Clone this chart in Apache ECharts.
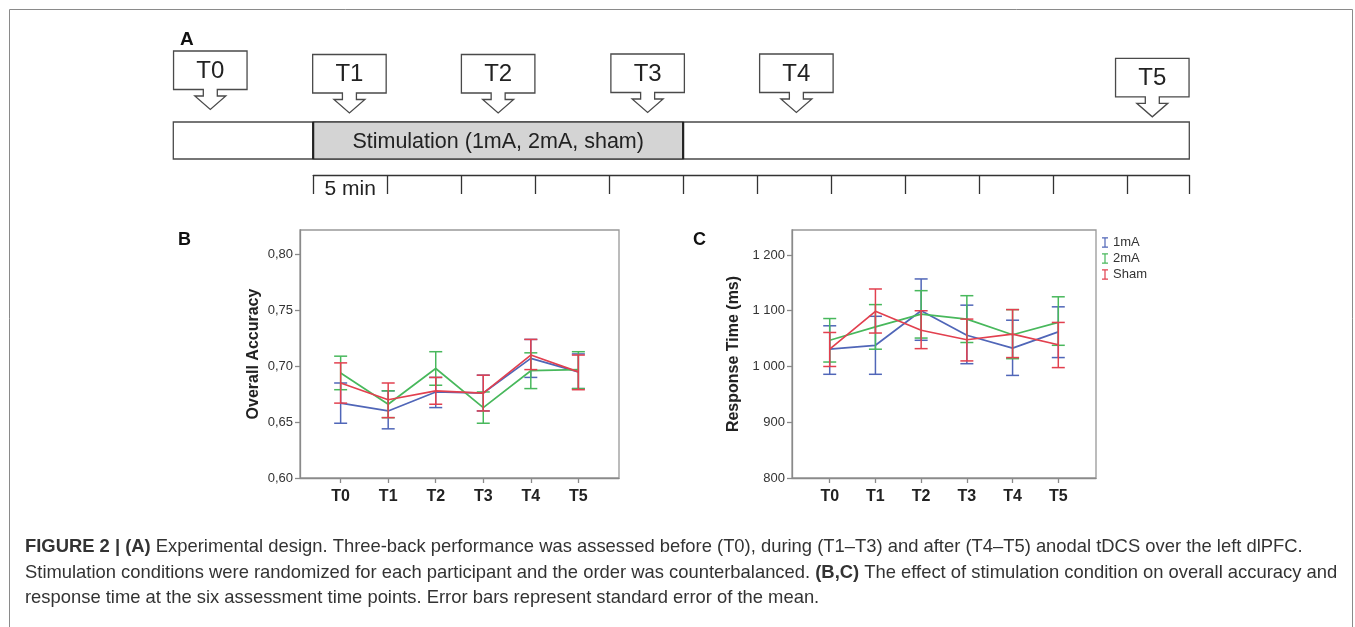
<!DOCTYPE html>
<html><head><meta charset="utf-8">
<script src="https://cdn.jsdelivr.net/npm/echarts@6/dist/echarts.min.js"></script>
<style>html,body{margin:0;padding:0;background:#fff}#c{width:1355px;height:627px}</style>
</head><body><div id="c"></div>
<script>
// ---------- data ----------
const timeLabels = ['T0', 'T1', 'T2', 'T3', 'T4', 'T5'];
const timeIdx = [0, 1, 2, 3, 4, 5];
const conditions = ['1mA', '2mA', 'Sham'];

// Panel B: overall accuracy (mean, lower / upper end of SE bar)
const acc1mA     = [0.667, 0.660, 0.677, 0.676, 0.707, 0.695];
const acc1mALo   = [0.649, 0.644, 0.663, 0.660, 0.690, 0.680];
const acc1mAHi   = [0.685, 0.678, 0.690, 0.692, 0.724, 0.711];
const acc2mA     = [0.694, 0.666, 0.698, 0.663, 0.696, 0.697];
const acc2mALo   = [0.679, 0.654, 0.683, 0.649, 0.680, 0.680];
const acc2mAHi   = [0.709, 0.678, 0.713, 0.677, 0.712, 0.713];
const accSham    = [0.685, 0.670, 0.678, 0.676, 0.710, 0.695];
const accShamLo  = [0.667, 0.654, 0.666, 0.660, 0.697, 0.679];
const accShamHi  = [0.703, 0.685, 0.690, 0.692, 0.724, 0.710];
const accTicks   = [0.60, 0.65, 0.70, 0.75, 0.80];

// Panel C: response time (ms)
const rt1mA      = [1031, 1038, 1100, 1056, 1033, 1062];
const rt1mALo    = [986, 986, 1047, 1005, 984, 1016];
const rt1mAHi    = [1073, 1090, 1157, 1110, 1083, 1107];
const rt2mA      = [1047, 1071, 1094, 1085, 1057, 1079];
const rt2mALo    = [1008, 1031, 1051, 1043, 1014, 1038];
const rt2mAHi    = [1086, 1111, 1136, 1127, 1102, 1125];
const rtSham     = [1031, 1099, 1065, 1048, 1058, 1039];
const rtShamLo   = [1000, 1060, 1032, 1010, 1016, 998];
const rtShamHi   = [1061, 1139, 1100, 1085, 1102, 1079];
const rtTicks    = [800, 900, 1000, 1100, 1200];

// Panel A: timeline in minutes (0 = stimulation onset)
const timelineStart = -9.45;
const timelineEnd = 59.2;
const stimStart = 0;
const stimEnd = 25;
const stimLabel = 'Stimulation (1mA, 2mA, sham)';
const calloutLabels = ['T0', 'T1', 'T2', 'T3', 'T4', 'T5'];
const calloutTimes = [-6.95, 2.45, 12.5, 22.6, 32.65, 56.7];
const rulerTicks = [0, 5, 10, 15, 20, 25, 30, 35, 40, 45, 50, 55, 59.2];
const rulerLabelAt = [2.5];
const rulerLabel = '5 min';

const captionLines = [
  '{b|FIGURE 2 | (A)} Experimental design. Three-back performance was assessed before (T0), during (T1\u2013T3) and after (T4\u2013T5) anodal tDCS over the left dlPFC.',
  'Stimulation conditions were randomized for each participant and the order was counterbalanced. {b|(B,C)} The effect of stimulation condition on overall accuracy and',
  'response time at the six assessment time points. Error bars represent standard error of the mean.'
];

// ---------- layout / style ----------
const FONT = '"Liberation Sans", Arial, Helvetica, sans-serif';
const COLORS = ['#5066b8', '#48b85c', '#e2404f'];
const CALLOUT_TOP = [51, 54.5, 54.5, 54, 54, 58.3];
const AXIS_GRAY = '#8a8a8a';
const CAP_SIZE = 18.4, CAP_LEFT = 25, CAP_TOP = 547, CAP_LEAD = 25.5;

const chart = echarts.init(document.getElementById('c'), null, {renderer: 'canvas'});

function errItem(params, api) {
  const x = api.value(0), lo = api.value(1), hi = api.value(2);
  const pLo = api.coord([x, lo]), pHi = api.coord([x, hi]);
  const w = 6.5;
  const style = {stroke: api.visual('color'), lineWidth: 1.5, fill: null};
  return {type: 'group', children: [
    {type: 'line', shape: {x1: pLo[0], y1: pLo[1], x2: pHi[0], y2: pHi[1]}, style},
    {type: 'line', shape: {x1: pLo[0] - w, y1: pLo[1], x2: pLo[0] + w, y2: pLo[1]}, style},
    {type: 'line', shape: {x1: pHi[0] - w, y1: pHi[1], x2: pHi[0] + w, y2: pHi[1]}, style}
  ]};
}

function calloutItem(params, api) {
  const t = api.value(0), idx = api.value(1);
  const cx = api.coord([t, 0])[0];
  const top = CALLOUT_TOP[idx], h = 38.5, hw = 36.75;
  const bot = top + h, sw = 7, hh = 15.5, sh = 6.5, ah = 13.5;
  const pts = [[cx - hw, top], [cx + hw, top], [cx + hw, bot], [cx + sw, bot], [cx + sw, bot + sh],
    [cx + hh, bot + sh], [cx, bot + sh + ah], [cx - hh, bot + sh], [cx - sw, bot + sh], [cx - sw, bot], [cx - hw, bot]];
  return {type: 'group', children: [
    {type: 'polygon', shape: {points: pts}, style: {fill: '#fff', stroke: '#4a4a4a', lineWidth: 1.3}},
    {type: 'text', style: {x: cx, y: top + h / 2 + 1, text: calloutLabels[idx], align: 'center', verticalAlign: 'middle',
      fontSize: 24, fontFamily: FONT, fill: '#222'}}
  ]};
}

function timelineItem(params, api) {
  const x0 = api.coord([api.value(0), 0])[0], x1 = api.coord([api.value(1), 0])[0];
  const stim = api.value(2) === 1;
  const y0 = 122, y1 = 159;
  const children = [
    {type: 'rect', shape: {x: x0, y: y0, width: x1 - x0, height: y1 - y0},
      style: {fill: stim ? '#d4d4d4' : '#fff', stroke: '#4a4a4a', lineWidth: 1.3}}
  ];
  if (stim) {
    children.push({type: 'line', shape: {x1: x0, y1: y0, x2: x0, y2: y1}, style: {stroke: '#222', lineWidth: 2.2}});
    children.push({type: 'line', shape: {x1: x1, y1: y0, x2: x1, y2: y1}, style: {stroke: '#222', lineWidth: 2.2}});
    children.push({type: 'text', style: {x: (x0 + x1) / 2, y: (y0 + y1) / 2 + 1.5, text: stimLabel, align: 'center',
      verticalAlign: 'middle', fontSize: 21.5, fontFamily: FONT, fill: '#222'}});
  }
  return {type: 'group', children};
}

function xAxisFor(grid, min, max) {
  return {
    gridIndex: grid, type: 'value', min: min, max: max,
    axisLine: {show: true, onZero: false, lineStyle: {color: AXIS_GRAY, width: 1.3}},
    axisTick: {show: true, customValues: timeIdx, length: 5, lineStyle: {color: AXIS_GRAY, width: 1.3}},
    axisLabel: {customValues: timeIdx, formatter: v => timeLabels[Math.round(v)], fontSize: 16, fontWeight: 'bold',
      color: '#222', fontFamily: FONT, margin: 11},
    splitLine: {show: false}
  };
}

function yAxisFor(grid, min, max, ticks, name, gap, fmt) {
  return {
    gridIndex: grid, type: 'value', min: min, max: max,
    name: name, nameLocation: 'middle', nameGap: gap,
    nameTextStyle: {fontSize: 16, fontWeight: 'bold', color: '#222', fontFamily: FONT},
    axisLine: {show: true, onZero: false, lineStyle: {color: AXIS_GRAY, width: 1.3}},
    axisTick: {show: true, customValues: ticks, length: 5, lineStyle: {color: AXIS_GRAY, width: 1.3}},
    axisLabel: {customValues: ticks, formatter: fmt, fontSize: 13, color: '#333', fontFamily: FONT, margin: 7},
    splitLine: {show: false}
  };
}

const accSets = [[acc1mA, acc1mALo, acc1mAHi], [acc2mA, acc2mALo, acc2mAHi], [accSham, accShamLo, accShamHi]];
const rtSets = [[rt1mA, rt1mALo, rt1mAHi], [rt2mA, rt2mALo, rt2mAHi], [rtSham, rtShamLo, rtShamHi]];

const series = [];
[[accSets, 0], [rtSets, 1]].forEach(([sets, g]) => {
  sets.forEach((s, k) => {
    series.push({
      name: conditions[k], type: 'custom', xAxisIndex: g, yAxisIndex: g, renderItem: errItem,
      itemStyle: {color: COLORS[k]}, encode: {x: 0, y: [1, 2]}, z: 2 + k,
      data: timeIdx.map(i => [i, s[1][i], s[2][i]]), silent: true
    });
    series.push({
      name: conditions[k], type: 'line', xAxisIndex: g, yAxisIndex: g, symbol: 'none', z: 2 + k,
      itemStyle: {color: COLORS[k]}, lineStyle: {color: COLORS[k], width: 1.7},
      data: timeIdx.map(i => [i, s[0][i]]), silent: true, animation: false
    });
  });
});

series.push({
  type: 'custom', xAxisIndex: 2, yAxisIndex: 2, renderItem: timelineItem, silent: true,
  data: [[timelineStart, timelineEnd, 0], [stimStart, stimEnd, 1]]
});
series.push({
  type: 'custom', xAxisIndex: 2, yAxisIndex: 2, renderItem: calloutItem, silent: true,
  data: calloutTimes.map((t, i) => [t, i])
});

const option = {
  backgroundColor: '#fff',
  animation: false,
  textStyle: {fontFamily: FONT},
  grid: [
    {left: 300, top: 230, width: 319, height: 248, show: true, borderColor: '#999', borderWidth: 1.3, backgroundColor: 'transparent'},
    {left: 792, top: 230, width: 304, height: 248, show: true, borderColor: '#999', borderWidth: 1.3, backgroundColor: 'transparent'},
    {left: 173.3, top: 40, width: 1016, height: 160, show: false},
    {left: 313.2, top: 175, width: 876.2, height: 19, show: false}
  ],
  xAxis: [
    xAxisFor(0, -0.855, 5.855),
    xAxisFor(1, -0.825, 5.825),
    {gridIndex: 2, type: 'value', min: timelineStart, max: timelineEnd, show: false},
    {gridIndex: 3, type: 'value', position: 'top', min: 0, max: timelineEnd,
      axisLine: {show: true, onZero: false, lineStyle: {color: '#333', width: 1.3}},
      axisTick: {show: true, inside: true, length: 19, customValues: rulerTicks, lineStyle: {color: '#333', width: 1.3}},
      axisLabel: {show: true, inside: true, customValues: rulerLabelAt, formatter: () => rulerLabel,
        fontSize: 21, color: '#222', fontFamily: FONT, margin: 4},
      splitLine: {show: false}}
  ],
  yAxis: [
    yAxisFor(0, 0.60, 0.8219, accTicks, 'Overall Accuracy', 38, v => v.toFixed(2).replace('.', ',')),
    yAxisFor(1, 800, 1244.8, rtTicks, 'Response Time (ms)', 50, v => String(Math.round(v)).replace(/\B(?=(\d{3})+(?!\d))/g, ' ')),
    {gridIndex: 2, type: 'value', min: 0, max: 1, show: false},
    {gridIndex: 3, type: 'value', min: 0, max: 1, show: false}
  ],
  legend: {
    data: conditions, orient: 'vertical', left: 1097, top: 231, itemWidth: 6, itemHeight: 11, itemGap: 3,
    icon: 'path://M0,0H8V1.6H4.8V12.4H8V14H0V12.4H3.2V1.6H0Z', selectedMode: false,
    textStyle: {fontSize: 13, color: '#333', fontFamily: FONT, lineHeight: 12}
  },
  graphic: [
    {type: 'rect', silent: true, shape: {x: 9.5, y: 9.5, width: 1343, height: 660},
      style: {fill: null, stroke: '#8a8a8a', lineWidth: 1}},
    {type: 'text', left: 180, top: 30, silent: true, style: {text: 'A', fontSize: 19, fontWeight: 'bold', fontFamily: FONT, fill: '#111'}},
    {type: 'text', left: 178, top: 231, silent: true, style: {text: 'B', fontSize: 18, fontWeight: 'bold', fontFamily: FONT, fill: '#111'}},
    {type: 'text', left: 693, top: 231, silent: true, style: {text: 'C', fontSize: 18, fontWeight: 'bold', fontFamily: FONT, fill: '#111'}}
  ].concat(captionLines.map((t, i) => ({
    type: 'text', silent: true, x: CAP_LEFT, y: CAP_TOP + i * CAP_LEAD,
    style: {text: t, fontSize: CAP_SIZE, fontFamily: FONT, fill: '#333', verticalAlign: 'middle',
      rich: {b: {fontSize: CAP_SIZE, fontWeight: 'bold', fontFamily: FONT, fill: '#333'}}}
  }))),
  series: series
};
chart.setOption(option);
</script></body></html>
